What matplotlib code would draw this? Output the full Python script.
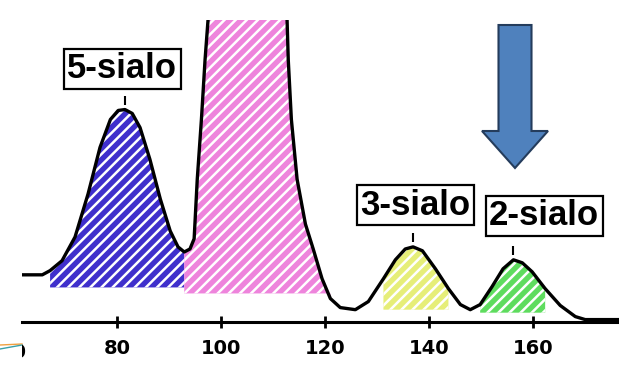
import matplotlib
matplotlib.use("Agg")
import matplotlib.pyplot as plt
from matplotlib.patches import FancyArrow
from matplotlib.lines import Line2D
from matplotlib.transforms import Bbox, blended_transform_factory

# retention time (min) and detector signal
time = [61.7, 65.6, 67.1, 69.4, 71.9, 74.4, 76.7, 78.7, 80.2, 81.5, 82.9, 84.4,
        86.3, 88.3, 90.2, 91.7, 92.9, 94.0, 94.8, 95.4, 96.2, 96.9, 97.9, 105.2,
        112.5, 112.9, 113.5, 114.6, 116.2, 117.7, 119.4, 121.0, 122.9, 125.8,
        128.3, 131.2, 133.5, 135.4, 136.9, 138.7, 141.2, 143.7, 146.0, 147.9,
        149.8, 152.1, 154.2, 156.2, 157.9, 159.8, 162.3, 165.2, 168.1, 170.0, 176.5]
signal = [15.2, 15.2, 16.6, 19.9, 27.8, 42.1, 57.6, 66.9, 69.9, 70.2, 68.9, 64.2,
          53.6, 40.4, 29.8, 24.5, 22.8, 23.8, 27.2, 47.0, 66.9, 86.8, 109.9, 220.0,
          110.0, 86.8, 66.9, 47.0, 32.1, 23.8, 13.9, 7.3, 4.3, 3.6,
          6.3, 13.9, 20.2, 23.8, 24.5, 23.2, 17.2, 10.6, 5.3, 3.6,
          5.3, 11.3, 17.2, 20.2, 19.2, 16.2, 10.6, 5.0, 1.3, 0.3, 0.3]

# shaded peak areas: (start, end, floor, colour)
areas = [(66.0, 92.9, 11, "#3f2fcc"),
         (92.9, 121.0, 9, "#ee84dc"),
         (131.2, 143.7, 3.6, "#e6ee78"),
         (149.8, 162.3, 2.6, "#5edc5e")]

peak_names = ["5-sialo", "3-sialo", "2-sialo"]
peak_time = [81.5, 136.9, 156.2]
peak_top = [70.2, 24.5, 20.2]
label_pos = [(81.0, 83.8), (137.3, 38.3), (162.1, 34.8)]

ticks = [80, 100, 120, 140, 160]
edge_ticks = [60, 180]

plt.rcParams['hatch.linewidth'] = 1.8

fig = plt.figure(figsize=(6.19, 3.70), dpi=100)
ax = fig.add_axes([22/619, 48/370, 597/619, 302/370])

for t0, t1, floor, col in areas:
    xs = [t for t in time if t0 <= t <= t1]
    ys = [s for t, s in zip(time, signal) if t0 <= t <= t1]
    ax.fill_between(xs, ys, floor, facecolor=col, edgecolor="white",
                    hatch="///", linewidth=0, zorder=1)

ax.plot(time, signal, color="black", lw=2.4, zorder=3, solid_joinstyle="round")

for name, t, top, (lx, ly) in zip(peak_names, peak_time, peak_top, label_pos):
    ax.vlines(t, top + 1.5, top + 4.5, color="black", lw=1.5, zorder=3)
    ax.text(lx, ly, name, ha="center", va="center", fontsize=25,
            fontweight="bold", family="Liberation Sans", zorder=4,
            bbox=dict(boxstyle="square,pad=0.1", fc="white", ec="black", lw=1.6))

ax.set_xlim(61.7, 176.5)
ax.set_ylim(-0.5, 100)
ax.set_yticks([])
for s in ["left", "right", "top"]:
    ax.spines[s].set_visible(False)
ax.spines["bottom"].set_linewidth(2.2)
ax.set_xticks(ticks)
ax.set_xticklabels([str(t) for t in ticks])
ax.tick_params(axis="x", direction="inout", length=8, width=2, pad=8,
               labelsize=14)
for lab in ax.get_xticklabels():
    lab.set_fontweight("bold")

# tick labels cut off by the picture edge
trans = blended_transform_factory(ax.transData, fig.transFigure)
clip = Bbox.from_extents(22, 0, 619, 370)
for t in edge_ticks:
    txt = fig.text(t, 18/370, str(t), transform=trans, ha="center", va="center",
                   fontsize=14, fontweight="bold")
    txt.set_clip_box(clip)
    txt.set_clip_on(True)

# blue arrow pointing at the 2-sialo peak
arrow = FancyArrow(5.15, 3.45, 0, -1.43, width=0.33, head_width=0.66,
                   head_length=0.37, length_includes_head=True,
                   transform=fig.dpi_scale_trans, facecolor="#4f81bd",
                   edgecolor="#243c5c", lw=1.5)
fig.add_artist(arrow)

# stray connector lines at the lower left
fig.add_artist(Line2D([0, 22/619], [25/370, 26/370], color="#f0a040", lw=1,
                      transform=fig.transFigure))
fig.add_artist(Line2D([0, 22/619], [21/370, 25/370], color="#3aa0a8", lw=1,
                      transform=fig.transFigure))

fig.savefig("out.png", dpi=100)
